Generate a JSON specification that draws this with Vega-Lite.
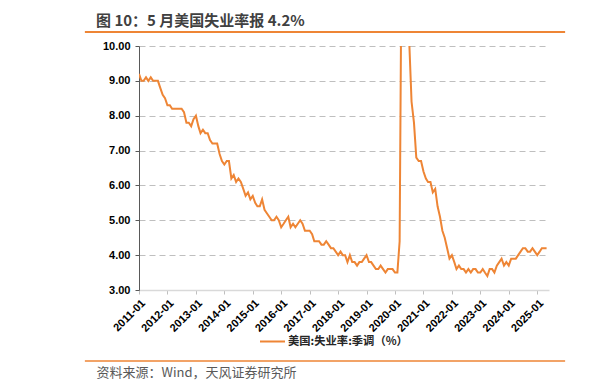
{
  "$schema": "https://vega.github.io/schema/vega-lite/v6.json",
  "width": 410,
  "height": 244,
  "autosize": {"type": "none"},
  "padding": {"left": 139, "top": 46, "right": 59, "bottom": 101},
  "background": "white",
  "config": {"view": {"stroke": null}, "font": "Liberation Sans"},
  "title": {
    "text": "图 10：5 月美国失业率报 4.2%",
    "anchor": "start",
    "frame": "group",
    "dx": -43,
    "offset": 2,
    "fontSize": 15,
    "font": "Noto Sans CJK SC",
    "fontWeight": "bold",
    "color": "#404040"
  },
  "resolve": {"axis": {"x": "independent", "y": "independent"}},
  "data": {
    "format": {"parse": {"date": "utc:'%Y-%m'"}},
    "values": [
      {"date":"2011-01","rate":9.2},{"date":"2011-02","rate":9.0},{"date":"2011-03","rate":9.0},{"date":"2011-04","rate":9.1},{"date":"2011-05","rate":9.0},{"date":"2011-06","rate":9.1},{"date":"2011-07","rate":9.0},{"date":"2011-08","rate":9.0},{"date":"2011-09","rate":9.0},{"date":"2011-10","rate":8.8},{"date":"2011-11","rate":8.6},{"date":"2011-12","rate":8.5},
      {"date":"2012-01","rate":8.3},{"date":"2012-02","rate":8.3},{"date":"2012-03","rate":8.2},{"date":"2012-04","rate":8.2},{"date":"2012-05","rate":8.2},{"date":"2012-06","rate":8.2},{"date":"2012-07","rate":8.2},{"date":"2012-08","rate":8.1},{"date":"2012-09","rate":7.8},{"date":"2012-10","rate":7.8},{"date":"2012-11","rate":7.7},{"date":"2012-12","rate":7.9},
      {"date":"2013-01","rate":8.0},{"date":"2013-02","rate":7.7},{"date":"2013-03","rate":7.5},{"date":"2013-04","rate":7.6},{"date":"2013-05","rate":7.5},{"date":"2013-06","rate":7.5},{"date":"2013-07","rate":7.3},{"date":"2013-08","rate":7.2},{"date":"2013-09","rate":7.2},{"date":"2013-10","rate":7.2},{"date":"2013-11","rate":6.9},{"date":"2013-12","rate":6.7},
      {"date":"2014-01","rate":6.6},{"date":"2014-02","rate":6.7},{"date":"2014-03","rate":6.7},{"date":"2014-04","rate":6.2},{"date":"2014-05","rate":6.3},{"date":"2014-06","rate":6.1},{"date":"2014-07","rate":6.2},{"date":"2014-08","rate":6.1},{"date":"2014-09","rate":5.9},{"date":"2014-10","rate":5.7},{"date":"2014-11","rate":5.8},{"date":"2014-12","rate":5.6},
      {"date":"2015-01","rate":5.7},{"date":"2015-02","rate":5.5},{"date":"2015-03","rate":5.4},{"date":"2015-04","rate":5.4},{"date":"2015-05","rate":5.6},{"date":"2015-06","rate":5.3},{"date":"2015-07","rate":5.2},{"date":"2015-08","rate":5.1},{"date":"2015-09","rate":5.0},{"date":"2015-10","rate":5.0},{"date":"2015-11","rate":5.1},{"date":"2015-12","rate":5.0},
      {"date":"2016-01","rate":4.8},{"date":"2016-02","rate":4.9},{"date":"2016-03","rate":5.0},{"date":"2016-04","rate":5.1},{"date":"2016-05","rate":4.8},{"date":"2016-06","rate":4.9},{"date":"2016-07","rate":4.8},{"date":"2016-08","rate":4.9},{"date":"2016-09","rate":5.0},{"date":"2016-10","rate":4.9},{"date":"2016-11","rate":4.7},{"date":"2016-12","rate":4.7},
      {"date":"2017-01","rate":4.7},{"date":"2017-02","rate":4.6},{"date":"2017-03","rate":4.4},{"date":"2017-04","rate":4.4},{"date":"2017-05","rate":4.4},{"date":"2017-06","rate":4.3},{"date":"2017-07","rate":4.3},{"date":"2017-08","rate":4.4},{"date":"2017-09","rate":4.3},{"date":"2017-10","rate":4.2},{"date":"2017-11","rate":4.2},{"date":"2017-12","rate":4.1},
      {"date":"2018-01","rate":4.0},{"date":"2018-02","rate":4.1},{"date":"2018-03","rate":4.0},{"date":"2018-04","rate":4.0},{"date":"2018-05","rate":3.8},{"date":"2018-06","rate":4.0},{"date":"2018-07","rate":3.8},{"date":"2018-08","rate":3.8},{"date":"2018-09","rate":3.7},{"date":"2018-10","rate":3.8},{"date":"2018-11","rate":3.8},{"date":"2018-12","rate":3.9},
      {"date":"2019-01","rate":4.0},{"date":"2019-02","rate":3.8},{"date":"2019-03","rate":3.8},{"date":"2019-04","rate":3.7},{"date":"2019-05","rate":3.6},{"date":"2019-06","rate":3.6},{"date":"2019-07","rate":3.7},{"date":"2019-08","rate":3.6},{"date":"2019-09","rate":3.5},{"date":"2019-10","rate":3.6},{"date":"2019-11","rate":3.6},{"date":"2019-12","rate":3.6},
      {"date":"2020-01","rate":3.5},{"date":"2020-02","rate":3.5},{"date":"2020-03","rate":4.4},{"date":"2020-04","rate":14.8},{"date":"2020-05","rate":13.2},{"date":"2020-06","rate":11.0},{"date":"2020-07","rate":10.2},{"date":"2020-08","rate":8.4},{"date":"2020-09","rate":7.8},{"date":"2020-10","rate":6.8},{"date":"2020-11","rate":6.7},{"date":"2020-12","rate":6.7},
      {"date":"2021-01","rate":6.4},{"date":"2021-02","rate":6.2},{"date":"2021-03","rate":6.1},{"date":"2021-04","rate":6.1},{"date":"2021-05","rate":5.8},{"date":"2021-06","rate":5.9},{"date":"2021-07","rate":5.4},{"date":"2021-08","rate":5.1},{"date":"2021-09","rate":4.7},{"date":"2021-10","rate":4.5},{"date":"2021-11","rate":4.2},{"date":"2021-12","rate":3.9},
      {"date":"2022-01","rate":4.0},{"date":"2022-02","rate":3.8},{"date":"2022-03","rate":3.6},{"date":"2022-04","rate":3.7},{"date":"2022-05","rate":3.6},{"date":"2022-06","rate":3.6},{"date":"2022-07","rate":3.5},{"date":"2022-08","rate":3.6},{"date":"2022-09","rate":3.5},{"date":"2022-10","rate":3.6},{"date":"2022-11","rate":3.6},{"date":"2022-12","rate":3.5},
      {"date":"2023-01","rate":3.5},{"date":"2023-02","rate":3.6},{"date":"2023-03","rate":3.5},{"date":"2023-04","rate":3.4},{"date":"2023-05","rate":3.6},{"date":"2023-06","rate":3.6},{"date":"2023-07","rate":3.5},{"date":"2023-08","rate":3.7},{"date":"2023-09","rate":3.8},{"date":"2023-10","rate":3.9},{"date":"2023-11","rate":3.7},{"date":"2023-12","rate":3.8},
      {"date":"2024-01","rate":3.7},{"date":"2024-02","rate":3.9},{"date":"2024-03","rate":3.9},{"date":"2024-04","rate":3.9},{"date":"2024-05","rate":4.0},{"date":"2024-06","rate":4.1},{"date":"2024-07","rate":4.2},{"date":"2024-08","rate":4.2},{"date":"2024-09","rate":4.1},{"date":"2024-10","rate":4.1},{"date":"2024-11","rate":4.2},{"date":"2024-12","rate":4.1},
      {"date":"2025-01","rate":4.0},{"date":"2025-02","rate":4.1},{"date":"2025-03","rate":4.2},{"date":"2025-04","rate":4.2},{"date":"2025-05","rate":4.2}
    ]
  },
  "layer": [
    {
      "mark": {"type": "line", "clip": true, "strokeWidth": 2},
      "encoding": {
        "x": {
          "field": "date",
          "type": "temporal",
          "scale": {"type": "utc", "domain": [{"year": 2011, "month": 1, "date": 1, "utc": true}, {"year": 2025, "month": 6, "date": 1, "utc": true}]},
          "axis": {
            "values": [
              {"year": 2011, "month": 1, "date": 1, "utc": true},{"year": 2012, "month": 1, "date": 1, "utc": true},{"year": 2013, "month": 1, "date": 1, "utc": true},{"year": 2014, "month": 1, "date": 1, "utc": true},{"year": 2015, "month": 1, "date": 1, "utc": true},{"year": 2016, "month": 1, "date": 1, "utc": true},{"year": 2017, "month": 1, "date": 1, "utc": true},{"year": 2018, "month": 1, "date": 1, "utc": true},{"year": 2019, "month": 1, "date": 1, "utc": true},{"year": 2020, "month": 1, "date": 1, "utc": true},{"year": 2021, "month": 1, "date": 1, "utc": true},{"year": 2022, "month": 1, "date": 1, "utc": true},{"year": 2023, "month": 1, "date": 1, "utc": true},{"year": 2024, "month": 1, "date": 1, "utc": true},{"year": 2025, "month": 1, "date": 1, "utc": true}
            ],
            "labelExpr": "utcFormat(datum.value, '%Y-%m')",
            "labelAngle": 315,
            "labelAlign": "right",
            "labelBaseline": "top",
            "labelFontSize": 11,
            "labelFontWeight": "bold",
            "labelColor": "#000000",
            "labelPadding": 3,
            "labelFlush": false,
            "labelOverlap": false,
            "domainColor": "#d9d9d9",
            "domainWidth": 1.5,
            "tickColor": "#bfbfbf",
            "tickSize": 4,
            "grid": false,
            "title": "资料来源：Wind，天风证券研究所",
            "titleFont": "Noto Sans CJK SC",
            "titleFontSize": 13,
            "titleFontWeight": "normal",
            "titleColor": "#595959",
            "titleX": -43,
            "titleY": 82,
            "titleAlign": "left",
            "titleAnchor": "start",
            "titleBaseline": "middle"
          }
        },
        "y": {
          "field": "rate",
          "type": "quantitative",
          "scale": {"domain": [3, 10], "nice": false, "zero": false},
          "axis": {
            "values": [3, 4, 5, 6, 7, 8, 9, 10],
            "format": ".2f",
            "labelFontSize": 11,
            "labelFontWeight": "bold",
            "labelColor": "#000000",
            "labelPadding": 5,
            "domainColor": "#595959",
            "tickColor": "#595959",
            "tickSize": 4,
            "gridDash": [6, 4],
            "gridColor": "#bfbfbf",
            "gridWidth": 1,
            "title": null
          }
        },
        "color": {
          "datum": "美国:失业率:季调（%）",
          "scale": {"range": ["#EE8535"]},
          "legend": {
            "orient": "none",
            "legendX": 120,
            "legendY": 282,
            "title": null,
            "symbolType": "stroke",
            "symbolSize": 625,
            "symbolStrokeWidth": 2,
            "labelFont": "Noto Sans CJK SC",
            "labelFontSize": 11.3,
            "labelFontWeight": "bold",
            "labelColor": "#262626",
            "labelOffset": 2
          }
        }
      }
    },
    {
      "data": {"values": [{}]},
      "mark": {"type": "rule", "color": "#EE8535", "strokeWidth": 2},
      "encoding": {
        "x": {"datum": {"year": 2009, "month": 2, "date": 5, "utc": true}, "type": "temporal", "axis": null},
        "x2": {"datum": {"year": 2025, "month": 12, "date": 25, "utc": true}},
        "y": {"datum": 10.4, "type": "quantitative", "axis": null}
      }
    },
    {
      "data": {"values": [{}]},
      "mark": {"type": "rule", "color": "#EE8535", "strokeWidth": 1.5},
      "encoding": {
        "x": {"datum": {"year": 2009, "month": 2, "date": 5, "utc": true}, "type": "temporal", "axis": null},
        "x2": {"datum": {"year": 2025, "month": 12, "date": 25, "utc": true}},
        "y": {"datum": 0.963, "type": "quantitative", "axis": null}
      }
    }
  ]
}
